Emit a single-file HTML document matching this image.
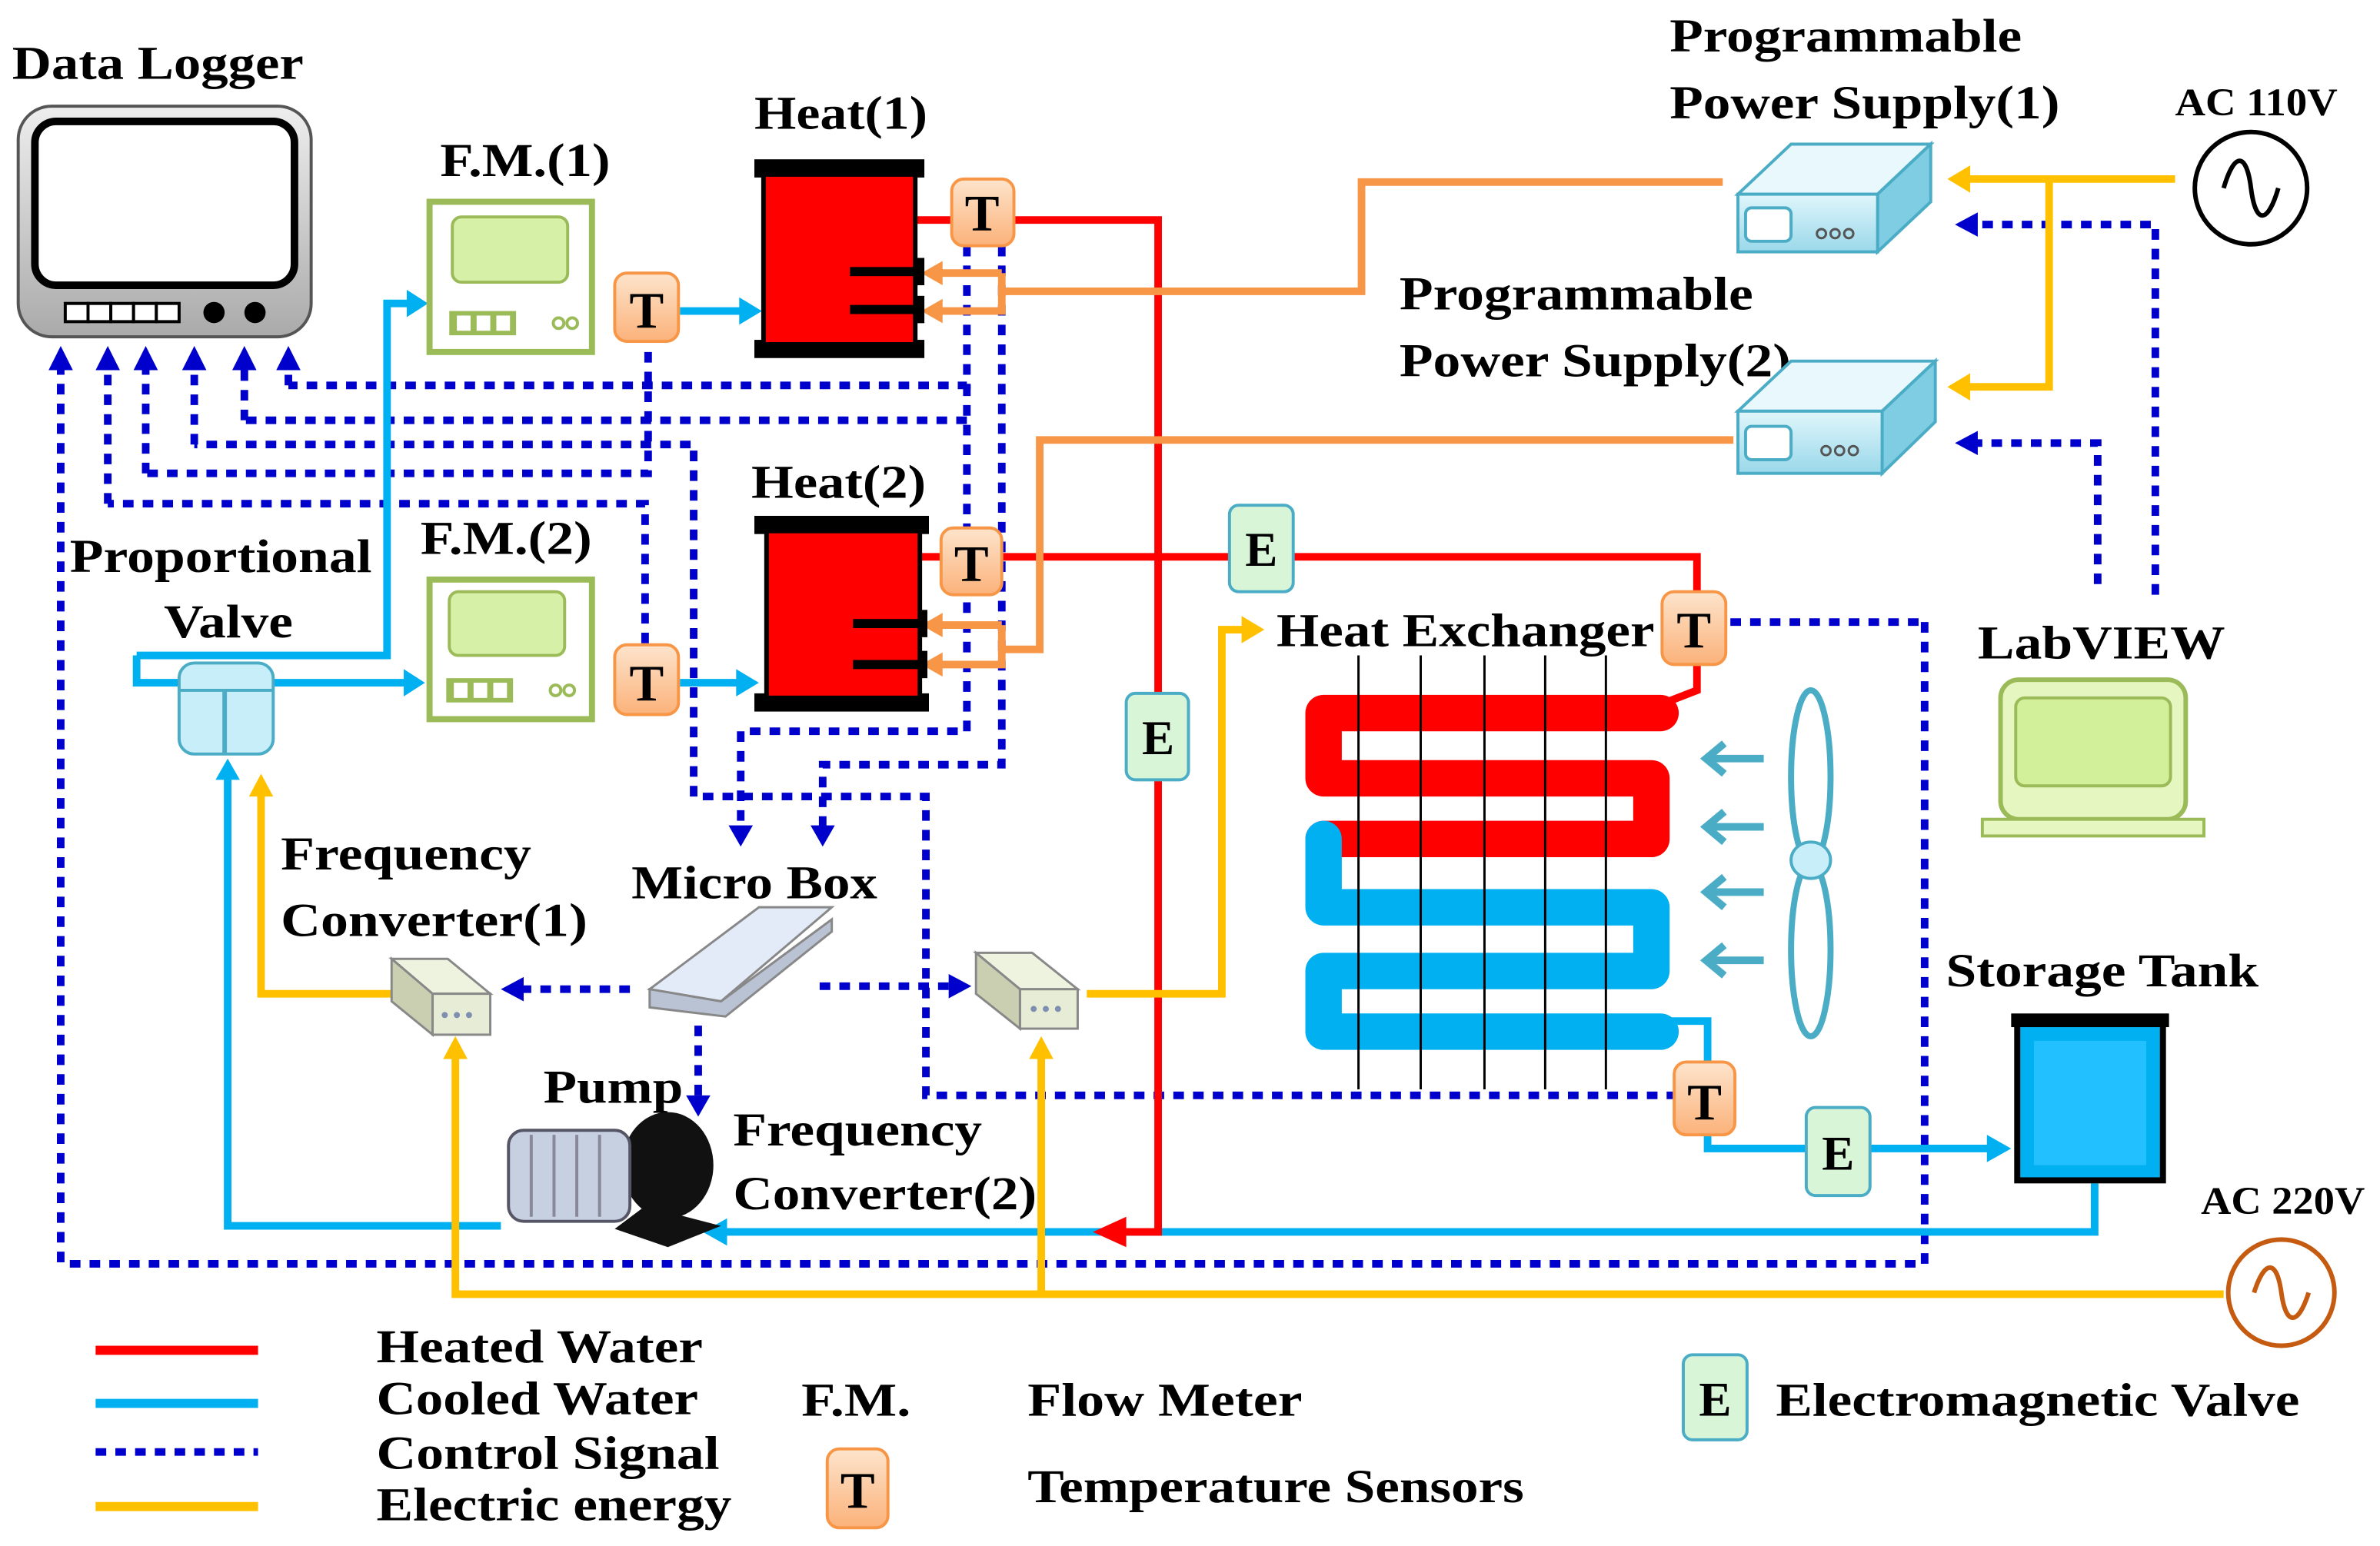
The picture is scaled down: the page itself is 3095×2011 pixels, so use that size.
<!DOCTYPE html>
<html><head><meta charset="utf-8"><style>
html,body{margin:0;padding:0;background:#fff}
svg{display:block}
text{font-family:"Liberation Serif",serif;font-weight:bold;fill:#000}
</style></head><body>
<svg width="3095" height="2011" viewBox="0 0 1568 1019" preserveAspectRatio="none" xmlns="http://www.w3.org/2000/svg">
<defs>
<linearGradient id="mon" x1="0" y1="0" x2="0" y2="1"><stop offset="0" stop-color="#eee"/><stop offset="1" stop-color="#aaa"/></linearGradient>
<linearGradient id="tg" x1="0" y1="0" x2="0" y2="1"><stop offset="0" stop-color="#fde4cc"/><stop offset="1" stop-color="#fbb27a"/></linearGradient>
<linearGradient id="ps" x1="0" y1="0" x2="0" y2="1"><stop offset="0" stop-color="#e0f6fb"/><stop offset="1" stop-color="#9ad8ea"/></linearGradient>
</defs>

<!-- texts -->
<g font-size="31" lengthAdjust="spacingAndGlyphs">
<text x="8" y="52" textLength="192" lengthAdjust="spacingAndGlyphs">Data Logger</text>
<text x="290" y="116" textLength="112" lengthAdjust="spacingAndGlyphs">F.M.(1)</text>
<text x="497" y="85" textLength="114" lengthAdjust="spacingAndGlyphs">Heat(1)</text>
<text x="1100" y="34" textLength="232" lengthAdjust="spacingAndGlyphs">Programmable</text>
<text x="1100" y="78" textLength="257" lengthAdjust="spacingAndGlyphs">Power Supply(1)</text>
<text x="922" y="204" textLength="233" lengthAdjust="spacingAndGlyphs">Programmable</text>
<text x="922" y="248" textLength="258" lengthAdjust="spacingAndGlyphs">Power Supply(2)</text>
<text x="495" y="328" textLength="115" lengthAdjust="spacingAndGlyphs">Heat(2)</text>
<text x="277" y="365" textLength="113" lengthAdjust="spacingAndGlyphs">F.M.(2)</text>
<text x="46" y="377" textLength="199" lengthAdjust="spacingAndGlyphs">Proportional</text>
<text x="108" y="420" textLength="85" lengthAdjust="spacingAndGlyphs">Valve</text>
<text x="841" y="426" textLength="249" lengthAdjust="spacingAndGlyphs">Heat Exchanger</text>
<text x="1303" y="434" textLength="163" lengthAdjust="spacingAndGlyphs">LabVIEW</text>
<text x="185" y="573" textLength="165" lengthAdjust="spacingAndGlyphs">Frequency</text>
<text x="185" y="617" textLength="202" lengthAdjust="spacingAndGlyphs">Converter(1)</text>
<text x="416" y="592" textLength="162" lengthAdjust="spacingAndGlyphs">Micro Box</text>
<text x="358" y="727" textLength="92" lengthAdjust="spacingAndGlyphs">Pump</text>
<text x="483" y="755" textLength="164" lengthAdjust="spacingAndGlyphs">Frequency</text>
<text x="483" y="797" textLength="200" lengthAdjust="spacingAndGlyphs">Converter(2)</text>
<text x="1282" y="650" textLength="206" lengthAdjust="spacingAndGlyphs">Storage Tank</text>
<text x="248" y="898" textLength="215" lengthAdjust="spacingAndGlyphs">Heated Water</text>
<text x="248" y="932" textLength="212" lengthAdjust="spacingAndGlyphs">Cooled Water</text>
<text x="248" y="968" textLength="226" lengthAdjust="spacingAndGlyphs">Control Signal</text>
<text x="248" y="1002" textLength="234" lengthAdjust="spacingAndGlyphs">Electric energy</text>
<text x="528" y="933" textLength="72" lengthAdjust="spacingAndGlyphs">F.M.</text>
<text x="677" y="933" textLength="181" lengthAdjust="spacingAndGlyphs">Flow Meter</text>
<text x="677" y="990" textLength="327" lengthAdjust="spacingAndGlyphs">Temperature Sensors</text>
<text x="1170" y="933" textLength="345" lengthAdjust="spacingAndGlyphs">Electromagnetic Valve</text>
</g>
<g font-size="26">
<text x="1433" y="76" textLength="107" lengthAdjust="spacingAndGlyphs">AC 110V</text>
<text x="1450" y="800" textLength="108" lengthAdjust="spacingAndGlyphs">AC 220V</text>
</g>

<!-- Data logger -->
<rect x="12" y="70" width="193" height="152" rx="22" fill="url(#mon)" stroke="#555" stroke-width="2"/>
<rect x="23" y="80" width="171" height="108" rx="14" fill="#fff" stroke="#000" stroke-width="5"/>
<g fill="#fff" stroke="#000" stroke-width="2"><rect x="43" y="200" width="15" height="12"/><rect x="58" y="200" width="15" height="12"/><rect x="73" y="200" width="15" height="12"/><rect x="88" y="200" width="15" height="12"/><rect x="103" y="200" width="15" height="12"/></g>
<circle cx="141" cy="206" r="7"/><circle cx="168" cy="206" r="7"/>

<!-- control signal dotted lines -->
<g fill="none" stroke="#0000cc" stroke-width="5" stroke-dasharray="7,6">
<polyline points="40,832 40,240"/>
<polyline points="1268,410 1268,833 40,833"/>
<polyline points="1140,410 1268,410"/>
<polyline points="71,332 71,240"/>
<polyline points="425,424 425,332 71,332"/>
<polyline points="96,312 96,240"/>
<polyline points="427,232 427,312 96,312"/>
<polyline points="128,293 128,240"/>
<polyline points="1105,722 610,722 610,525 457,525 457,293 128,293"/>
<polyline points="161,277 161,240"/>
<polyline points="637,277 161,277"/>
<polyline points="190,254 190,240"/>
<polyline points="637,162 637,254 190,254"/>
<polyline points="637,254 637,482 488,482 488,548"/>
<polyline points="660,162 660,504 542,504 542,548"/>
<polyline points="415,652 340,652"/>
<polyline points="540,650 630,650"/>
<polyline points="460,676 460,726"/>
<polyline points="1382,385 1382,292 1300,292"/>
<polyline points="1420,392 1420,148 1300,148"/>
</g>
<g fill="#0000cc">
<path d="M40,228 l-8,16 h16z"/><path d="M71,228 l-8,16 h16z"/><path d="M96,228 l-8,16 h16z"/><path d="M128,228 l-8,16 h16z"/><path d="M161,228 l-8,16 h16z"/><path d="M190,228 l-8,16 h16z"/>
<path d="M488,558 l-8,-14 h16z"/><path d="M542,558 l-8,-14 h16z"/>
<path d="M330,652 l15,-8 v16z"/><path d="M640,650 l-15,-8 v16z"/><path d="M460,736 l-8,-14 h16z"/>
<path d="M1288,292 l15,-8 v16z"/><path d="M1288,148 l15,-8 v16z"/>
</g>

<!-- cooled water -->
<g fill="none" stroke="#00b0f0" stroke-width="5">
<polyline points="90,432 90,450 270,450"/>
<polyline points="90,432 255,432 255,200 272,200"/>
<polyline points="448,205 488,205"/>
<polyline points="448,450 488,450"/>
<polyline points="330,808 150,808 150,512"/>
<polyline points="1380,780 1380,812 478,812"/>
<polyline points="1097,673 1125,673 1125,757 1310,757"/>
</g>
<g fill="#00b0f0">
<path d="M282,200 l-14,-9 v18z"/><path d="M280,450 l-14,-9 v18z"/><path d="M502,205 l-15,-9 v18z"/><path d="M500,450 l-15,-9 v18z"/>
<path d="M150,500 l-8,14 h16z"/><path d="M463,812 l16,-9 v18z"/><path d="M1325,757 l-16,-9 v18z"/>
</g>

<!-- heated water -->
<g fill="none" stroke="#ff0000" stroke-width="5">
<polyline points="600,145 763,145 763,812 740,812"/>
<polyline points="605,367 1118,367 1118,455 1100,462"/>
</g>
<path d="M720,812 l22,-10 v20z" fill="#ff0000"/>

<!-- electric energy yellow -->
<g fill="none" stroke="#ffc000" stroke-width="5">
<polyline points="1433,118 1295,118"/>
<polyline points="1350,118 1350,255 1295,255"/>
<polyline points="1465,853 300,853 300,695"/>
<polyline points="686,853 686,695"/>
<polyline points="716,655 805,655 805,415 820,415"/>
<polyline points="258,655 172,655 172,522"/>
</g>
<g fill="#ffc000">
<path d="M1283,118 l15,-9 v18z"/><path d="M1283,255 l15,-9 v18z"/>
<path d="M300,683 l-8,15 h16z"/><path d="M686,683 l-8,15 h16z"/><path d="M833,415 l-15,-9 v18z"/><path d="M172,510 l-8,15 h16z"/>
</g>

<!-- orange power lines -->
<g fill="none" stroke="#f79646" stroke-width="5">
<polyline points="1135,120 897,120 897,192 660,192"/>
<polyline points="660,180 660,205 620,205"/>
<polyline points="660,180 620,180"/>
<polyline points="1142,290 685,290 685,428 660,428"/>
<polyline points="660,412 660,438 620,438"/>
<polyline points="660,412 620,412"/>
</g>
<g fill="#f79646">
<path d="M607,180 l14,-8 v16z"/><path d="M607,205 l14,-8 v16z"/><path d="M607,412 l14,-8 v16z"/><path d="M607,438 l14,-8 v16z"/>
</g>

<!-- flow meters -->
<g>
<rect x="283" y="133" width="107" height="99" fill="#fff" stroke="#9bbb59" stroke-width="4"/>
<rect x="298" y="143" width="76" height="43" rx="6" fill="#d7f0a8" stroke="#9bbb59" stroke-width="2"/>
<rect x="296" y="205" width="44" height="16" fill="#9bbb59"/><rect x="301" y="208" width="9" height="10" fill="#fff"/><rect x="314" y="208" width="9" height="10" fill="#fff"/><rect x="327" y="208" width="9" height="10" fill="#fff"/>
<circle cx="368" cy="213" r="3.5" fill="none" stroke="#9bbb59" stroke-width="2"/><circle cx="377" cy="213" r="3.5" fill="none" stroke="#9bbb59" stroke-width="2"/>
<rect x="283" y="382" width="107" height="92" fill="#fff" stroke="#9bbb59" stroke-width="4"/>
<rect x="296" y="390" width="76" height="42" rx="6" fill="#d7f0a8" stroke="#9bbb59" stroke-width="2"/>
<rect x="294" y="447" width="44" height="16" fill="#9bbb59"/><rect x="299" y="450" width="9" height="10" fill="#fff"/><rect x="312" y="450" width="9" height="10" fill="#fff"/><rect x="325" y="450" width="9" height="10" fill="#fff"/>
<circle cx="366" cy="455" r="3.5" fill="none" stroke="#9bbb59" stroke-width="2"/><circle cx="375" cy="455" r="3.5" fill="none" stroke="#9bbb59" stroke-width="2"/>
</g>

<!-- heaters -->
<rect x="497" y="105" width="112" height="12" fill="#000"/>
<rect x="497" y="224" width="112" height="12" fill="#000"/>
<rect x="503" y="115" width="100" height="112" fill="#ff0000" stroke="#000" stroke-width="3"/>
<rect x="560" y="176" width="48" height="6" fill="#000"/><rect x="604" y="170" width="5" height="18" fill="#000"/>
<rect x="560" y="201" width="48" height="6" fill="#000"/><rect x="604" y="195" width="5" height="18" fill="#000"/>
<rect x="497" y="340" width="115" height="12" fill="#000"/>
<rect x="497" y="457" width="115" height="12" fill="#000"/>
<rect x="505" y="350" width="101" height="110" fill="#ff0000" stroke="#000" stroke-width="3"/>
<rect x="562" y="408" width="48" height="6" fill="#000"/><rect x="606" y="402" width="5" height="18" fill="#000"/>
<rect x="562" y="435" width="48" height="6" fill="#000"/><rect x="606" y="429" width="5" height="18" fill="#000"/>

<!-- T sensors -->
<g stroke="#f79646" stroke-width="2" fill="url(#tg)">
<rect x="405" y="180" width="42" height="45" rx="8"/>
<rect x="627" y="118" width="41" height="44" rx="8"/>
<rect x="620" y="348" width="40" height="44" rx="8"/>
<rect x="405" y="425" width="42" height="46" rx="8"/>
<rect x="1095" y="390" width="42" height="48" rx="8"/>
<rect x="1103" y="700" width="40" height="48" rx="8"/>
<rect x="545" y="955" width="40" height="52" rx="8"/>
</g>
<g font-size="34" text-anchor="middle">
<text x="426" y="216">T</text><text x="647" y="152">T</text><text x="640" y="383">T</text><text x="426" y="462">T</text>
<text x="1116" y="427">T</text><text x="1123" y="738">T</text><text x="565" y="994">T</text>
</g>

<!-- E valves -->
<g stroke="#4bacc6" stroke-width="2" fill="#d8f5d8">
<rect x="810" y="333" width="42" height="57" rx="6"/>
<rect x="742" y="457" width="41" height="57" rx="6"/>
<rect x="1190" y="730" width="42" height="58" rx="6"/>
<rect x="1109" y="893" width="42" height="56" rx="6"/>
</g>
<g font-size="32" text-anchor="middle">
<text x="831" y="373">E</text><text x="763" y="497">E</text><text x="1211" y="771">E</text><text x="1130" y="933">E</text>
</g>

<!-- heat exchanger coil -->
<g fill="none" stroke-width="24" stroke-linejoin="round" stroke-linecap="round">
<path d="M1094,470 H872 V513 H1088 V553 H872" stroke="#ff0000"/>
<path d="M872,553 V598 H1088 V640 H872 V680 H1094" stroke="#00b0f0"/>
</g>
<g stroke="#000" stroke-width="1.5">
<line x1="895" y1="432" x2="895" y2="718"/><line x1="936" y1="432" x2="936" y2="718"/><line x1="978" y1="432" x2="978" y2="718"/><line x1="1018" y1="432" x2="1018" y2="718"/><line x1="1058" y1="432" x2="1058" y2="718"/>
</g>
<!-- fan -->
<g fill="none" stroke="#4bacc6" stroke-width="4">
<ellipse cx="1193" cy="512" rx="13" ry="57"/><ellipse cx="1193" cy="626" rx="13" ry="57"/>
</g>
<ellipse cx="1193" cy="567" rx="13" ry="12" fill="#c8eefa" stroke="#4bacc6" stroke-width="2"/>
<g stroke="#4bacc6" stroke-width="5" fill="none">
<path d="M1162,500 H1124 M1136,490 L1124,500 L1136,510"/>
<path d="M1162,545 H1124 M1136,535 L1124,545 L1136,555"/>
<path d="M1162,588 H1124 M1136,578 L1124,588 L1136,598"/>
<path d="M1162,633 H1124 M1136,623 L1124,633 L1136,643"/>
</g>

<!-- power supplies -->
<g stroke="#4bacc6" stroke-width="2">
<path d="M1145,128 L1180,95 H1272 L1237,128Z" fill="#e8f8fc"/>
<path d="M1237,128 L1272,95 V133 L1237,166Z" fill="#7fcde3"/>
<rect x="1145" y="128" width="92" height="38" fill="url(#ps)"/>
<rect x="1150" y="137" width="30" height="22" rx="4" fill="#fff"/>
<path d="M1145,271 L1180,238 H1275 L1240,271Z" fill="#e8f8fc"/>
<path d="M1240,271 L1275,238 V278 L1240,312Z" fill="#7fcde3"/>
<rect x="1145" y="271" width="95" height="41" fill="url(#ps)"/>
<rect x="1150" y="281" width="30" height="22" rx="4" fill="#fff"/>
</g>
<g fill="none" stroke="#555" stroke-width="1.5">
<circle cx="1200" cy="154" r="3"/><circle cx="1209" cy="154" r="3"/><circle cx="1218" cy="154" r="3"/>
<circle cx="1203" cy="297" r="3"/><circle cx="1212" cy="297" r="3"/><circle cx="1221" cy="297" r="3"/>
</g>

<!-- AC sources -->
<circle cx="1483" cy="124" r="37" fill="#fff" stroke="#000" stroke-width="3"/>
<path d="M1465,124 C1472,100 1480,100 1483,124 C1486,148 1494,148 1501,124" fill="none" stroke="#000" stroke-width="3"/>
<circle cx="1503" cy="852" r="35" fill="#fff" stroke="#c55a11" stroke-width="3"/>
<path d="M1485,852 C1492,830 1500,830 1503,852 C1506,874 1514,874 1521,852" fill="none" stroke="#c55a11" stroke-width="3"/>

<!-- LabVIEW laptop -->
<rect x="1318" y="448" width="122" height="92" rx="12" fill="#e6f6c0" stroke="#9bbb59" stroke-width="3"/>
<rect x="1328" y="460" width="102" height="58" rx="6" fill="#d2ef9a" stroke="#9bbb59" stroke-width="2"/>
<rect x="1306" y="540" width="146" height="11" fill="#e6f6c0" stroke="#9bbb59" stroke-width="2"/>

<!-- storage tank -->
<rect x="1325" y="668" width="104" height="9" fill="#000"/>
<rect x="1329" y="675" width="96" height="103" fill="#00b0f0" stroke="#000" stroke-width="4"/>
<rect x="1340" y="686" width="74" height="82" fill="#22c0ff"/>

<!-- proportional valve -->
<rect x="118" y="437" width="62" height="60" rx="10" fill="#c8eefa" stroke="#4bacc6" stroke-width="2"/>
<line x1="118" y1="455" x2="180" y2="455" stroke="#4bacc6" stroke-width="2"/>
<line x1="148" y1="455" x2="148" y2="497" stroke="#4bacc6" stroke-width="3"/>

<!-- frequency converters -->
<g stroke="#888" stroke-width="1.5">
<path d="M258,632 H295 L323,655 H285Z" fill="#eef3e0"/>
<path d="M258,632 L285,655 V682 L258,660Z" fill="#c9cfb0"/>
<rect x="285" y="655" width="38" height="27" fill="#e6ecd6"/>
<path d="M643,628 H680 L710,652 H672Z" fill="#eef3e0"/>
<path d="M643,628 L672,652 V678 L643,655Z" fill="#c9cfb0"/>
<rect x="672" y="652" width="38" height="26" fill="#e6ecd6"/>
</g>
<g fill="#7f8fb0"><circle cx="293" cy="669" r="2"/><circle cx="301" cy="669" r="2"/><circle cx="309" cy="669" r="2"/><circle cx="681" cy="665" r="2"/><circle cx="689" cy="665" r="2"/><circle cx="697" cy="665" r="2"/></g>

<!-- micro box -->
<g stroke="#888" stroke-width="1.5">
<path d="M428,652 L500,598 H548 L475,660Z" fill="#e3ebf8"/>
<path d="M475,660 L548,606 V614 L478,670 L428,664 V652Z" fill="#b9c3d4"/>
</g>

<!-- pump -->
<ellipse cx="440" cy="768" rx="30" ry="35" fill="#111"/>
<path d="M425,795 L475,808 L440,822 L405,810Z" fill="#111"/>
<rect x="335" y="745" width="80" height="60" rx="10" fill="#c7d0e0" stroke="#556" stroke-width="2"/>
<g stroke="#889" stroke-width="2"><line x1="350" y1="748" x2="350" y2="802"/><line x1="365" y1="748" x2="365" y2="802"/><line x1="380" y1="748" x2="380" y2="802"/><line x1="395" y1="748" x2="395" y2="802"/></g>

<!-- legend lines -->
<line x1="63" y1="890" x2="170" y2="890" stroke="#ff0000" stroke-width="6"/>
<line x1="63" y1="925" x2="170" y2="925" stroke="#00b0f0" stroke-width="6"/>
<line x1="63" y1="957" x2="170" y2="957" stroke="#0000cc" stroke-width="5" stroke-dasharray="7,6"/>
<line x1="63" y1="993" x2="170" y2="993" stroke="#ffc000" stroke-width="6"/>
</svg>
</body></html>
